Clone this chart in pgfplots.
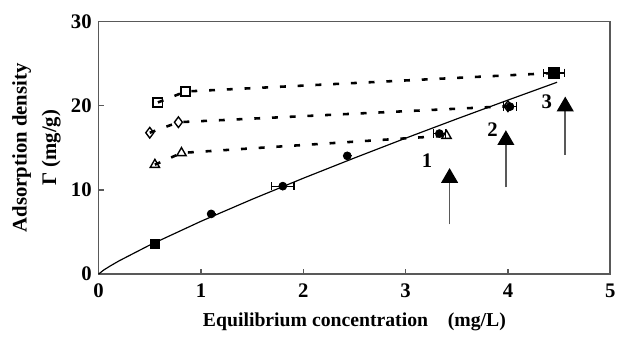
\documentclass[border=0pt]{standalone}
\usepackage{pgfplots}
\pgfplotsset{compat=1.18}
\usepackage{fontspec}
\setmainfont{Liberation Serif}
\usetikzlibrary{arrows.meta}

\definecolor{axgray}{gray}{0.35}

% fitted isotherm (solid line)
\pgfplotstableread{
x y
0 0
0.05 0.48
0.116 0.98
0.2 1.57
0.5 3.45
1.0 6.27
1.5 8.89
2.0 11.39
2.5 13.80
3.0 16.15
3.5 18.44
4.0 20.68
4.48 22.80
}\fitline

\begin{document}
\begin{tikzpicture}
\begin{axis}[
    scale only axis,
    width=259.5pt, height=128pt,
    xmin=0, xmax=5, ymin=0, ymax=30,
    xtick={0,1,2,3,4,5},
    ytick={0,10,20,30},
    xtick pos=left, ytick pos=left,
    tick align=inside,
    major tick length=2.5pt,
    axis line style={axgray, line width=0.8pt},
    tick style={axgray, line width=0.7pt},
    /pgf/number format/assume math mode=true,
    ticklabel style={font=\bfseries\fontsize{10.5}{12}\selectfont},
    xticklabel style={yshift=-1.5pt},
    clip=false,
    errstyle/.style={error bars/.cd, x dir=both, x explicit,
        error mark=|,
        error bar style={line width=0.6pt},
        error mark options={mark size=2.2pt, line width=0.6pt, rotate=0}},
]
% invisible frame giving the picture its size
\path (rel axis cs:-0.1927,-0.2305) rectangle (rel axis cs:1.0058,1.0859);

% fitted curve
\addplot[black, line width=0.6pt, no marks] table {\fitline};

% dashed series
\addplot[black, line width=1.3pt, dash pattern=on 3pt off 6pt,
    mark=triangle, mark size=2.7pt, mark options={solid, line width=0.7pt}]
    coordinates {(0.55,13.0) (0.81,14.4) (3.40,16.45)};
\addplot[black, line width=1.3pt, dash pattern=on 3pt off 6pt,
    mark=diamond, mark size=2.7pt, mark options={solid, line width=0.7pt}]
    coordinates {(0.50,16.8) (0.78,18.05) (4.00,19.95)};
\addplot[black, line width=1.3pt, dash pattern=on 3pt off 6pt,
    mark=square, mark size=2.3pt, mark options={solid, line width=1pt}]
    coordinates {(0.58,20.4) (0.85,21.7) (4.45,23.9)};

% measured points
\addplot[only marks, mark=*, mark size=2pt, black, errstyle]
    coordinates {
    (1.10,7.15) +- (0,0)
    (1.80,10.45) +- (0.11,0)
    (2.43,14.05) +- (0,0)
    (3.33,16.7) +- (0.06,0)
    (4.02,19.9) +- (0.06,0)
    };
\addplot[only marks, mark=square*, mark size=2.2pt, black, errstyle]
    coordinates {
    (0.55,3.55) +- (0,0)
    (4.45,23.9) +- (0.10,0)
    };

% arrows and labels
\draw[axgray, line width=0.8pt, -{Triangle[width=8.5pt,length=7.5pt,color=black]}]
    (axis cs:3.43,5.9) -- (axis cs:3.43,12.6);
\draw[axgray, line width=0.8pt, -{Triangle[width=8.5pt,length=7.5pt,color=black]}]
    (axis cs:3.98,10.3) -- (axis cs:3.98,17.1);
\draw[axgray, line width=0.8pt, -{Triangle[width=8.5pt,length=7.5pt,color=black]}]
    (axis cs:4.56,14.2) -- (axis cs:4.56,21.1);
\node[font=\bfseries\fontsize{10.5}{12}\selectfont] at (axis cs:3.21,13.5) {1};
\node[font=\bfseries\fontsize{10.5}{12}\selectfont] at (axis cs:3.85,17.2) {2};
\node[font=\bfseries\fontsize{10.5}{12}\selectfont] at (axis cs:4.38,20.5) {3};

% axis labels
\node[font=\bfseries\fontsize{10}{12}\selectfont] at (rel axis cs:0.5,-0.191)
    {Equilibrium concentration\quad(mg/L)};
\node[rotate=90, align=center, font=\bfseries\fontsize{10.5}{15}\selectfont]
    at (rel axis cs:-0.1214,0.5) {Adsorption density\\Γ (mg/g)};
\end{axis}
\end{tikzpicture}
\end{document}
